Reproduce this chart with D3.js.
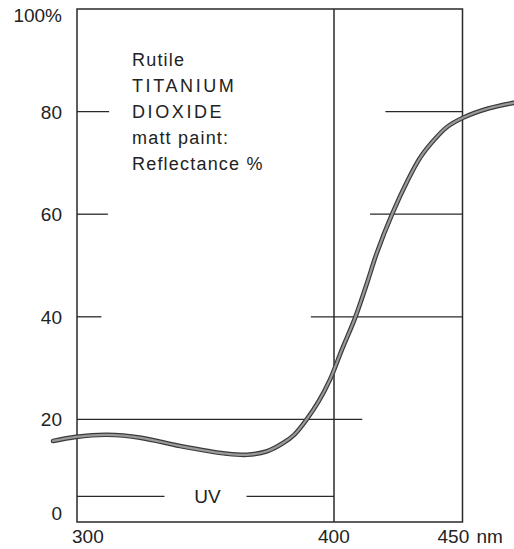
<!DOCTYPE html>
<html>
<head>
<meta charset="utf-8">
<script src="https://cdn.jsdelivr.net/npm/d3@7/dist/d3.min.js"></script>
<style>
  html, body { margin: 0; padding: 0; background: #fff; }
  svg { display: block; }
  text { font-family: "Liberation Sans", Arial, Helvetica, sans-serif; fill: #222; }
</style>
</head>
<body>
<div id="chart1"></div>
<script>
// reflectance curve (nm, %)
const wavelength = [290.7, 299.6, 311.7, 325, 340.1, 358.4, 366.1, 374, 380.2, 384.5, 389.5, 394, 398.4,
  403, 408.2, 412.8, 416.7, 422.6, 428.8, 433.5, 439, 444, 450.2, 460, 470];
const reflectance = [15.8, 16.6, 17.0, 16.4, 14.8, 13.3, 13.1, 13.8, 15.4, 17.0, 20.1, 23.5, 27.7,
  33.5, 39.8, 46.5, 52.5, 60.0, 66.7, 71.0, 74.5, 77.0, 78.8, 80.6, 81.7];

const yTicks = [0, 20, 40, 60, 80, 100];
const yTickLabels = ["0", "20", "40", "60", "80", "100%"];
const xTicks = [300, 400, 450];
const xTickLabels = ["300", "400", "450 nm"];

// partial grid lines: [value, from nm, to nm]
const gridValues = [20, 40, 60, 80];
const gridFrom = [300, 391, 414, 420];
const gridTo = [411, 450, 450, 450];
const leftTickTo = [0, 309.5, 312, 312.5];

const uvRange = [300, 400];
const uvLevel = 5;
const titleLines = ["Rutile", "TITANIUM", "DIOXIDE", "matt paint:", "Reflectance %"];

const width = 514, height = 549;
const x = d3.scaleLinear().domain([300, 450]).range([77, 462.5]);
const y = d3.scaleLinear().domain([0, 100]).range([522, 9]);

const svg = d3.select('#chart1')
  .append('svg')
  .attr('width', width)
  .attr('height', height);

const ink = '#2a2a2a';

// frame
svg.append('path')
  .attr('d', `M${x(300)},${y(0)}V${y(100)}H${x(450)}V${y(0)}Z`)
  .attr('fill', 'none').attr('stroke', ink).attr('stroke-width', 1.5);
// 400 nm divider
svg.append('line')
  .attr('x1', x(400)).attr('x2', x(400))
  .attr('y1', y(100)).attr('y2', y(0))
  .attr('stroke', ink).attr('stroke-width', 1.5);

// grid pieces
svg.selectAll('.grid')
  .data(gridValues)
  .enter()
  .append('line')
  .attr('class', 'grid')
  .attr('x1', (d, i) => x(gridFrom[i]))
  .attr('x2', (d, i) => x(gridTo[i]))
  .attr('y1', d => y(d)).attr('y2', d => y(d))
  .attr('stroke', ink).attr('stroke-width', 1.3);

svg.selectAll('.ltick')
  .data(gridValues.slice(1))
  .enter()
  .append('line')
  .attr('class', 'ltick')
  .attr('x1', x(300))
  .attr('x2', (d, i) => x(leftTickTo[i + 1]))
  .attr('y1', d => y(d)).attr('y2', d => y(d))
  .attr('stroke', ink).attr('stroke-width', 1.3);

// UV bracket
const uvMid = (x(uvRange[0]) + x(uvRange[1])) / 2 + 2;
svg.append('line')
  .attr('x1', x(uvRange[0])).attr('x2', uvMid - 43)
  .attr('y1', y(uvLevel)).attr('y2', y(uvLevel))
  .attr('stroke', ink).attr('stroke-width', 1.4);
svg.append('line')
  .attr('x1', uvMid + 39).attr('x2', x(uvRange[1]))
  .attr('y1', y(uvLevel)).attr('y2', y(uvLevel))
  .attr('stroke', ink).attr('stroke-width', 1.4);
svg.append('text')
  .attr('x', uvMid).attr('y', y(uvLevel) + 7)
  .attr('text-anchor', 'middle')
  .style('font-size', '19px')
  .text('UV');

// y labels
const yLabelShift = v => v === 100 ? 13 : v === 0 ? -2 : 7;
svg.selectAll('.ylab')
  .data(yTicks)
  .enter()
  .append('text')
  .attr('class', 'ylab')
  .attr('x', 62)
  .attr('y', d => y(d) + yLabelShift(d))
  .attr('text-anchor', 'end')
  .style('font-size', '19px')
  .text((d, i) => yTickLabels[i]);

// x labels
const xLabelShift = [-5, -16, -25];
svg.selectAll('.xlab')
  .data(xTicks)
  .enter()
  .append('text')
  .attr('class', 'xlab')
  .attr('x', (d, i) => x(d) + xLabelShift[i])
  .attr('y', 543)
  .style('font-size', '19px')
  .style('word-spacing', '2px')
  .text((d, i) => xTickLabels[i]);

// title block
svg.selectAll('.title')
  .data(titleLines)
  .enter()
  .append('text')
  .attr('class', 'title')
  .attr('x', 132)
  .attr('y', (d, i) => 66 + i * 26)
  .style('font-size', '18px')
  .style('letter-spacing', d => d === d.toUpperCase() && d.length > 6 ? '2.6px' : '1.2px')
  .text(d => d);

// curve
const pts = wavelength.map((w, i) => [w, reflectance[i]]);
const line = d3.line()
  .x(d => x(d[0]))
  .y(d => y(d[1]))
  .curve(d3.curveCatmullRom.alpha(0.5));
svg.append('path')
  .datum(pts)
  .attr('d', line)
  .attr('fill', 'none').attr('stroke', '#3a3a3a').attr('stroke-width', 4.6)
  .attr('stroke-linecap', 'round');
svg.append('path')
  .datum(pts)
  .attr('d', line)
  .attr('fill', 'none').attr('stroke', '#9a9a9a').attr('stroke-width', 2.2)
  .attr('stroke-linecap', 'round');
</script>
</body>
</html>
